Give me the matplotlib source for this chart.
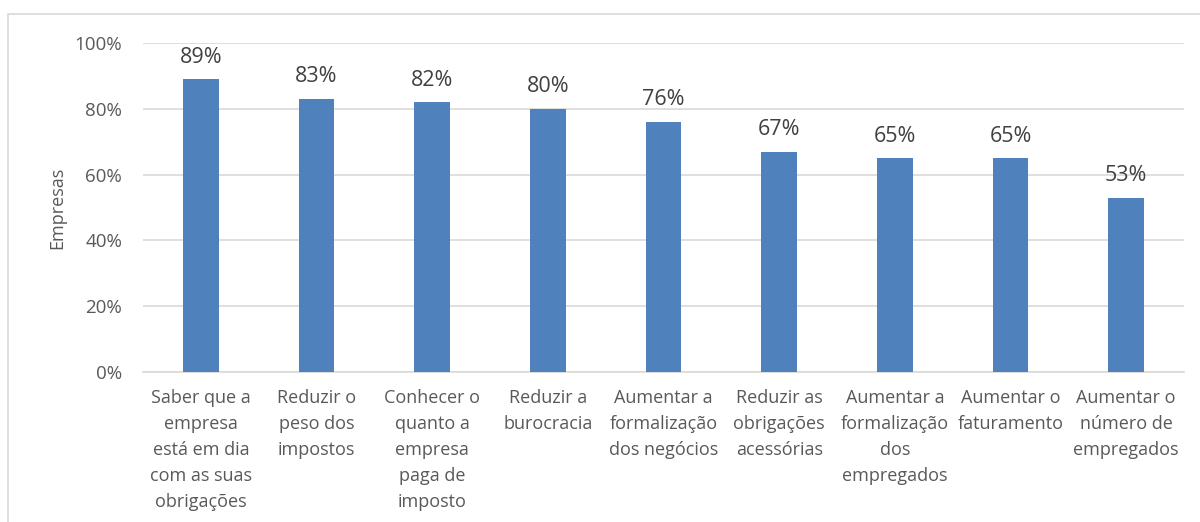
import matplotlib.pyplot as plt
from matplotlib.patches import Rectangle
from matplotlib.ticker import PercentFormatter

categorias = [
    "Saber que a\nempresa\nestá em dia\ncom as suas\nobrigações",
    "Reduzir o\npeso dos\nimpostos",
    "Conhecer o\nquanto a\nempresa\npaga de\nimposto",
    "Reduzir a\nburocracia",
    "Aumentar a\nformalização\ndos negócios",
    "Reduzir as\nobrigações\nacessórias",
    "Aumentar a\nformalização\ndos\nempregados",
    "Aumentar o\nfaturamento",
    "Aumentar o\nnúmero de\nempregados",
]
percentuais = [89, 83, 82, 80, 76, 67, 65, 65, 53]

plt.rcParams["font.family"] = ["Open Sans", "DejaVu Sans"]
texto = "#595959"

fig = plt.figure(figsize=(12, 5.22), dpi=100)
ax = fig.add_axes([143 / 1200, 1 - 372 / 522, 1041 / 1200, 329 / 522])

# moldura do gráfico
fig.patches.append(Rectangle((8 / 1200, -0.1), 1.1, 1.1 - 14 / 522,
                             transform=fig.transFigure, fill=False,
                             edgecolor="#d9d9d9", linewidth=1.2))

xs = range(len(categorias))
ax.bar(xs, percentuais, width=0.31, color="#4f81bd", zorder=3)
for x, v in zip(xs, percentuais):
    ax.text(x, v + 3.5, f"{v}%", ha="center", va="bottom", fontsize=15.5,
            color="#404040")

ax.set_xlim(-0.5, len(categorias) - 0.5)
ax.set_ylim(0, 100)
ax.set_yticks(range(0, 101, 20))
ax.yaxis.set_major_formatter(PercentFormatter(decimals=0))
ax.set_xticks(list(xs))
ax.set_xticklabels(categorias, fontsize=13, color=texto, linespacing=1.57,
                   va="top")
ax.tick_params(axis="y", labelsize=13.5, labelcolor=texto, length=0, pad=15)
ax.tick_params(axis="x", length=0, pad=12)
ax.grid(axis="y", color="#d9d9d9", linewidth=1.2, zorder=0)
for s in ["top", "right", "left"]:
    ax.spines[s].set_visible(False)
ax.spines["bottom"].set_color("#d9d9d9")
ax.spines["bottom"].set_linewidth(1.2)
ax.set_ylabel("Empresas", fontsize=13, color=texto, labelpad=6)

fig.savefig("out.png", dpi=100)
